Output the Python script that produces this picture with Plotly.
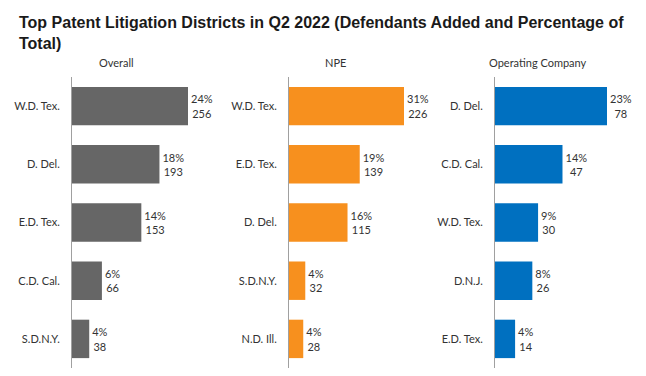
import plotly.graph_objects as go

# Data
overall_cats = ["W.D. Tex.", "D. Del.", "E.D. Tex.", "C.D. Cal.", "S.D.N.Y."]
overall_vals = [256, 193, 153, 66, 38]
overall_pct = ["24%", "18%", "14%", "6%", "4%"]

npe_cats = ["W.D. Tex.", "E.D. Tex.", "D. Del.", "S.D.N.Y.", "N.D. Ill."]
npe_vals = [226, 139, 115, 32, 28]
npe_pct = ["31%", "19%", "16%", "4%", "4%"]

op_cats = ["D. Del.", "C.D. Cal.", "W.D. Tex.", "D.N.J.", "E.D. Tex."]
op_vals = [78, 47, 30, 26, 14]
op_pct = ["23%", "14%", "9%", "8%", "4%"]

panel_titles = ["Overall", "NPE", "Operating Company"]
colors = ["#666666", "#F7901E", "#0070C0"]

# The page body has an 8px margin, so the figure sits at page (8, 8).
OFF = 8
W, H = 646 - 2 * OFF, 376 - 2 * OFF
TOP = 77 - OFF          # plot-area top in figure px
PH = H - TOP            # plot-area height

# page-pixel geometry: (axis x, right edge, pixel length of longest bar)
panels = [
    (overall_cats, overall_vals, overall_pct, 72, 220, 116),
    (npe_cats, npe_vals, npe_pct, 289, 430, 115),
    (op_cats, op_vals, op_pct, 495, 638, 112),
]
title_x = [116, 335, 538]

fig = go.Figure()
font_fam = "Lato, Noto Sans, sans-serif"
for i, (cats, vals, pct, x0, x1, maxlen) in enumerate(panels):
    n = "" if i == 0 else str(i + 1)
    fig.add_trace(go.Bar(
        y=cats, x=vals, orientation="h",
        marker=dict(color=colors[i], line=dict(width=0)),
        text=[f"{p}<br>{v}" for p, v in zip(pct, vals)],
        textposition="outside", constraintext="none",
        textfont=dict(family=font_fam, size=11, color="#333333"),
        cliponaxis=False,
        xaxis="x" + n, yaxis="y" + n, showlegend=False, hoverinfo="skip",
    ))
    rng = max(vals) * (x1 - x0) / maxlen
    fig.layout["xaxis" + n] = dict(
        domain=[(x0 - OFF) / W, min(1, (x1 - OFF) / W)], range=[0, rng], visible=False,
        anchor="y" + n, fixedrange=True, automargin=False,
    )
    fig.layout["yaxis" + n] = dict(
        domain=[0, 1], autorange="reversed", anchor="x" + n,
        showline=True, linecolor="#a0a0a0", linewidth=1, automargin=False,
        ticks="", showgrid=False, zeroline=False, ticklabelstandoff=9,
        tickfont=dict(family=font_fam, size=11, color="#333333"),
    )
    fig.add_annotation(
        text=panel_titles[i], x=(title_x[i] - OFF) / W, xref="paper", xanchor="center",
        y=1 + 14 / PH, yref="paper", yanchor="middle", showarrow=False,
        font=dict(family=font_fam, size=11, color="#333333"),
    )

fig.add_annotation(
    text="<b>Top Patent Litigation Districts in Q2 2022 (Defendants Added and Percentage of<br>Total)</b>",
    x=8.5 / W, xref="paper", xanchor="left", align="left",
    y=1 + (TOP - 4) / PH, yref="paper", yanchor="top", showarrow=False,
    font=dict(family="Liberation Sans, Arial, sans-serif", size=16, color="#1a1a1a"),
)

fig.update_layout(
    width=W, height=H,
    margin=dict(l=0, r=0, t=TOP, b=0, autoexpand=False),
    bargap=0.34,
    plot_bgcolor="white", paper_bgcolor="white",
)

fig.write_html("out.html")
